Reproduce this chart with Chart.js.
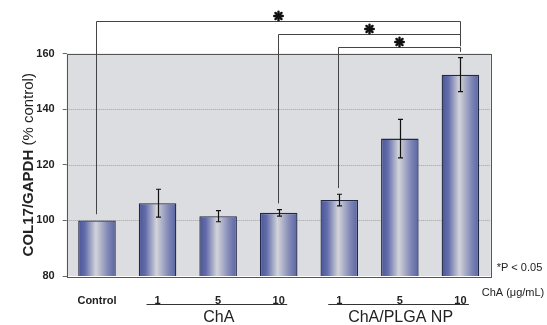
<!DOCTYPE html>
<html>
<head>
<meta charset="utf-8">
<script src="https://cdn.jsdelivr.net/npm/chart.js@4.4.1/dist/chart.umd.min.js"></script>
<style>
  html, body { margin: 0; padding: 0; background: #fff; }
  #wrap { width: 547px; height: 325px; position: relative; }
</style>
</head>
<body>
<div id="wrap"><canvas id="col17chart"></canvas></div>
<script>
// values
const categories = ['Control', '1', '5', '10', '1', '5', '10'];
const means = [100, 106.2, 101.5, 102.7, 107.3, 129.4, 152.4];
const errors = [0, 5.0, 2.0, 1.2, 2.1, 6.9, 6.1];
const groupNames = ['ChA', 'ChA/PLGA NP'];
const groupFirst = [1, 4];
const groupLast = [3, 6];
// significance pairs (index from, index to)
const sigFrom = [0, 3, 4];
const sigTo = [6, 6, 6];

const FONT = "'Liberation Sans Narrow', 'Liberation Sans', Arial, sans-serif";
const BAR_PCT = 0.62;

function barGradient(ctx) {
  const chart = ctx.chart;
  const area = chart.chartArea;
  if (!area || !chart.scales.x) return '#6a72a8';
  const cx = chart.scales.x.getPixelForValue(ctx.dataIndex);
  const w = (area.right - area.left) / categories.length * BAR_PCT;
  const g = chart.ctx.createLinearGradient(cx - w / 2, 0, cx + w / 2, 0);
  g.addColorStop(0, '#4a5597');
  g.addColorStop(0.18, '#636dab');
  g.addColorStop(0.47, '#d3d4d9');
  g.addColorStop(0.78, '#838ab7');
  g.addColorStop(1, '#5863a3');
  return g;
}

const decor = {
  id: 'decor',
  beforeDatasetsDraw(chart) {
    const { ctx, chartArea: a, scales: { y } } = chart;
    ctx.save();
    ctx.fillStyle = '#dcdde0';
    ctx.fillRect(a.left, a.top, a.right - a.left, a.bottom - a.top);
    ctx.strokeStyle = '#a0a0a0';
    ctx.lineWidth = 1;
    ctx.setLineDash([1, 1]);
    y.ticks.forEach(t => {
      if (t.value <= y.min || t.value >= y.max) return;
      const py = Math.round(y.getPixelForValue(t.value)) + 0.5;
      ctx.beginPath();
      ctx.moveTo(a.left, py);
      ctx.lineTo(a.right, py);
      ctx.stroke();
    });
    ctx.restore();
  },
  afterDatasetsDraw(chart) {
    const { ctx, chartArea: a, scales: { x, y } } = chart;
    ctx.save();
    // frame
    ctx.strokeStyle = '#555';
    ctx.lineWidth = 1;
    ctx.strokeRect(Math.round(a.left) + 0.5, Math.round(a.top) + 0.5,
      Math.round(a.right - a.left), Math.round(a.bottom - a.top));

    // error bars
    ctx.strokeStyle = '#111';
    ctx.lineWidth = 1.2;
    means.forEach((m, i) => {
      if (!errors[i]) return;
      const px = Math.round(x.getPixelForValue(i)) + 0.5;
      const hi = y.getPixelForValue(m + errors[i]);
      const lo = y.getPixelForValue(m - errors[i]);
      ctx.beginPath();
      ctx.moveTo(px, hi); ctx.lineTo(px, lo);
      ctx.moveTo(px - 2.5, hi); ctx.lineTo(px + 2.5, hi);
      ctx.moveTo(px - 2.5, lo); ctx.lineTo(px + 2.5, lo);
      ctx.stroke();
    });

    // significance brackets
    const levels = [171.6, 166.9, 162.5];
    const rightEnds = [164.6, 162.6, 160.6];
    ctx.strokeStyle = '#444';
    ctx.lineWidth = 1;
    sigFrom.forEach((f, k) => {
      const x1 = Math.round(x.getPixelForValue(f)) - 0.5;
      const x2 = Math.round(x.getPixelForValue(sigTo[k])) + 0.5;
      const ly = Math.round(y.getPixelForValue(levels[k])) + 0.5;
      const drop = means[f] + errors[f] + 2.2;
      ctx.beginPath();
      ctx.moveTo(x1, y.getPixelForValue(drop));
      ctx.lineTo(x1, ly);
      ctx.lineTo(x2, ly);
      ctx.lineTo(x2, y.getPixelForValue(rightEnds[k]));
      ctx.stroke();
      // star
      const sx = (x1 + x2) / 2, sy = ly - 5.5;
      ctx.save();
      ctx.strokeStyle = '#111';
      ctx.lineWidth = 2.4;
      ctx.lineCap = 'round';
      for (let j = 0; j < 4; j++) {
        const ang = j * Math.PI / 4;
        ctx.beginPath();
        ctx.moveTo(sx - 4.3 * Math.cos(ang), sy - 4.3 * Math.sin(ang));
        ctx.lineTo(sx + 4.3 * Math.cos(ang), sy + 4.3 * Math.sin(ang));
        ctx.stroke();
      }
      ctx.restore();
    });

    // group underlines and names
    ctx.strokeStyle = '#333';
    ctx.lineWidth = 1;
    ctx.fillStyle = '#222';
    ctx.textAlign = 'center';
    ctx.textBaseline = 'middle';
    groupNames.forEach((name, k) => {
      const gx1 = x.getPixelForValue(groupFirst[k]) - 11;
      const gx2 = x.getPixelForValue(groupLast[k]) + 8.5;
      const gy = a.bottom + 28;
      ctx.beginPath();
      ctx.moveTo(gx1, Math.round(gy) + 0.5);
      ctx.lineTo(gx2, Math.round(gy) + 0.5);
      ctx.stroke();
      ctx.font = '16px ' + FONT;
      ctx.fillText(name, (gx1 + gx2) / 2 + 2, a.bottom + 42);
    });

    // side notes
    ctx.textAlign = 'left';
    ctx.font = '11px ' + FONT;
    ctx.fillText('*P < 0.05', a.right + 6, a.bottom - 8);
    ctx.fillText('ChA (\u03bcg/mL)', a.right - 9, a.bottom + 17);

    // y title
    ctx.save();
    ctx.translate(29, (a.top + a.bottom) / 2);
    ctx.rotate(-Math.PI / 2);
    ctx.textBaseline = 'middle';
    const p1 = 'COL17/GAPDH', p2 = ' (% control)';
    ctx.font = 'bold 15px ' + FONT;
    const w1 = ctx.measureText(p1).width;
    ctx.font = '15px ' + FONT;
    const w2 = ctx.measureText(p2).width;
    ctx.textAlign = 'left';
    ctx.font = 'bold 15px ' + FONT;
    ctx.fillText(p1, -(w1 + w2) / 2, 0);
    ctx.font = '15px ' + FONT;
    ctx.fillText(p2, -(w1 + w2) / 2 + w1, 0);
    ctx.restore();
    ctx.restore();
  }
};

const ctxChart = document.getElementById('col17chart').getContext('2d');
const col17Chart = new Chart(ctxChart, {
  type: 'bar',
  data: {
    labels: categories,
    datasets: [{
      label: 'COL17/GAPDH',
      data: means,
      backgroundColor: barGradient,
      borderColor: '#232846',
      borderWidth: 1.3,
      borderSkipped: false,
      barPercentage: BAR_PCT,
      categoryPercentage: 1
    }]
  },
  options: {
    responsive: true,
    maintainAspectRatio: false,
    animation: false,
    events: [],
    layout: { padding: { left: 26.7, right: 56.3, top: 53.5, bottom: 0 } },
    plugins: { legend: { display: false }, tooltip: { enabled: false } },
    scales: {
      x: {
        grid: { display: false },
        border: { display: false },
        ticks: { color: '#222', font: { family: FONT, size: 11, weight: 'bold' }, padding: 10, maxRotation: 0 },
        afterFit: s => { s.height = 49; }
      },
      y: {
        min: 80,
        max: 160,
        ticks: { stepSize: 20, color: '#222', font: { family: FONT, size: 11, weight: 'bold' }, padding: 8 },
        grid: { drawOnChartArea: false, drawTicks: true, tickLength: 4, tickColor: '#666' },
        border: { display: false },
        afterFit: s => { s.width = 40; }
      }
    }
  },
  plugins: [decor]
});
</script>
</body>
</html>
